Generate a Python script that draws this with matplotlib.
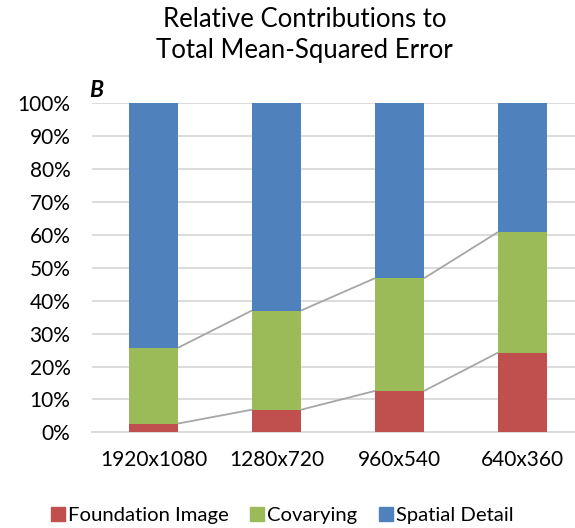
import matplotlib
matplotlib.use("Agg")
import matplotlib.pyplot as plt
from matplotlib.patches import Patch
import numpy as np

plt.rcParams['font.family'] = ['Lato', 'DejaVu Sans']

categories = ["1920x1080", "1280x720", "960x540", "640x360"]
foundation = [2.7, 6.9, 12.6, 24.2]
covarying = [23.0, 30.1, 34.2, 36.6]
spatial = [100 - f - c for f, c in zip(foundation, covarying)]

red = "#C0504D"
green = "#9BBB59"
blue = "#4F81BD"

fig = plt.figure(figsize=(5.75, 5.28), dpi=100)
ax = fig.add_axes([0.16, 0.181, 0.84, 0.624])

x = np.arange(len(categories))
w = 0.4
f = np.array(foundation)
c = np.array(covarying)
s = np.array(spatial)
ax.bar(x, f, w, color=red, zorder=3, label="Foundation Image")
ax.bar(x, c, w, bottom=f, color=green, zorder=3, label="Covarying")
ax.bar(x, s, w, bottom=f + c, color=blue, zorder=3, label="Spatial Detail")

# series connector lines between adjacent bars
for level in (f, f + c):
    for i in range(len(x) - 1):
        ax.plot([x[i] + w / 2, x[i + 1] - w / 2], [level[i], level[i + 1]],
                color="#A6A6A6", lw=1.3, zorder=2, solid_capstyle="butt")

ax.set_xlim(-0.5, 3.427)
ax.set_ylim(0, 100)
ax.set_yticks(np.arange(0, 101, 10))
ax.set_yticklabels([f"{v}%" for v in range(0, 101, 10)], fontsize=15)
ax.set_xticks(x)
ax.set_xticklabels(categories, fontsize=15)
ax.tick_params(axis="both", length=0, colors="black")
ax.tick_params(axis="y", pad=15.5)
ax.tick_params(axis="x", pad=13)
ax.yaxis.grid(True, color="#D9D9D9", lw=1.3, zorder=0)
ax.set_axisbelow(True)
for side in ("top", "right", "left"):
    ax.spines[side].set_visible(False)
ax.spines["bottom"].set_color("#D9D9D9")
ax.spines["bottom"].set_linewidth(1.3)

fig.text(0.53, 0.933, "Relative Contributions to\nTotal Mean-Squared Error",
         ha="center", va="center", fontsize=18.5, linespacing=1.3)
fig.text(0.155, 0.828, "B", fontsize=16.5, fontweight="bold", fontstyle="italic",
         ha="left", va="center")

handles = [Patch(color=red, label="Foundation Image"),
           Patch(color=green, label="Covarying"),
           Patch(color=blue, label="Spatial Detail")]
fig.legend(handles=handles, loc="center", bbox_to_anchor=(0.491, 0.023), ncol=3,
           frameon=False, fontsize=14.6, handlelength=0.7, handleheight=0.7,
           handletextpad=0.15, columnspacing=1.05)

fig.savefig("out.png", dpi=100)
